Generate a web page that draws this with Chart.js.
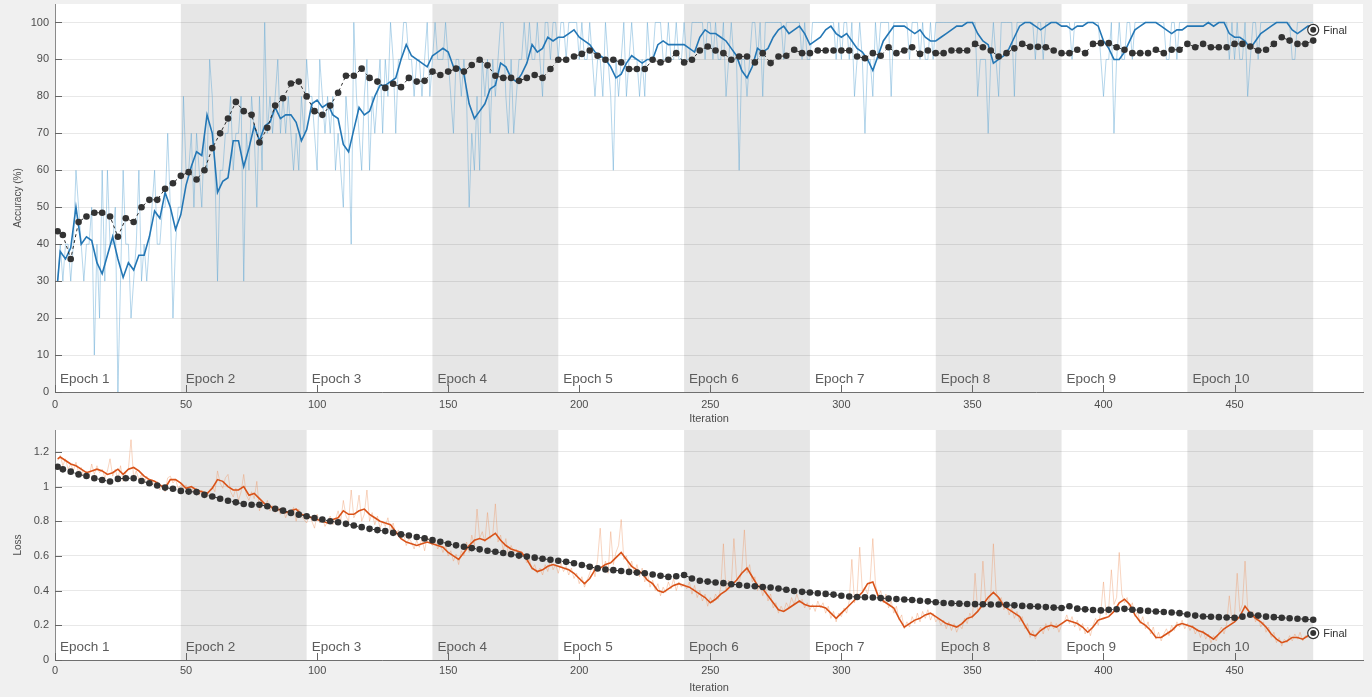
<!DOCTYPE html>
<html>
<head>
<meta charset="utf-8">
<script src="https://cdn.jsdelivr.net/npm/chart.js@4.4.1/dist/chart.umd.min.js"></script>
<style>
  html, body { margin: 0; padding: 0; background: #f0f0f0; }
  #wrap { position: relative; width: 1372px; height: 697px; overflow: hidden; }
  canvas { position: absolute; left: 0; }
  #accChart { top: 0; }
  #lossChart { top: 426px; }
</style>
</head>
<body>
<div id="wrap">
  <canvas id="accChart" width="1372" height="426"></canvas>
  <canvas id="lossChart" width="1372" height="271"></canvas>
</div>
<script>
// epochs: 48 iterations each, 480 in total
const epochLabels = ['Epoch 1', 'Epoch 2', 'Epoch 3', 'Epoch 4', 'Epoch 5', 'Epoch 6', 'Epoch 7', 'Epoch 8', 'Epoch 9', 'Epoch 10'];
const epochStarts = [0, 48, 96, 144, 192, 240, 288, 336, 384, 432, 480];
const iterTicks = [0, 50, 100, 150, 200, 250, 300, 350, 400, 450];
const accTicks = [0, 10, 20, 30, 40, 50, 60, 70, 80, 90, 100];
const lossTicks = [0, 0.2, 0.4, 0.6, 0.8, 1, 1.2];

// training accuracy per iteration (1..480)
const accRaw = [
  30,40,30,40,40,30,40,60,50,40,30,40,40,50,10,40,20,60,30,60,40,40,50,0,
  30,60,40,40,20,30,40,60,30,40,30,40,50,60,40,40,50,50,70,50,20,40,50,50,
  80,60,60,70,50,70,60,50,70,60,90,80,60,30,60,60,70,70,80,60,70,70,80,30,
  70,60,80,70,50,80,60,100,70,80,70,80,90,70,80,70,80,70,60,70,60,80,70,90,
  80,80,70,60,90,80,70,80,70,80,60,70,60,50,80,70,40,100,80,70,60,80,90,60,
  80,70,80,90,70,90,80,100,90,70,90,90,100,100,90,90,80,90,90,80,90,100,80,90,
  100,90,90,90,100,90,80,70,90,90,80,90,80,50,70,60,80,60,90,80,90,70,90,80,
  90,100,100,80,70,90,70,80,90,90,100,90,100,90,90,100,90,80,100,100,90,100,100,90,
  100,100,90,100,100,100,100,90,100,90,90,100,90,80,90,90,80,100,90,80,60,90,80,90,
  100,80,90,100,90,90,80,90,80,100,90,90,100,100,100,90,90,100,90,90,100,90,90,100,
  90,90,100,100,100,100,100,90,100,100,90,100,90,90,100,80,90,100,90,90,60,90,90,80,
  90,100,100,90,100,80,100,100,100,100,100,100,100,90,100,100,100,100,100,100,90,100,90,90,
  100,100,100,100,100,100,100,100,100,90,100,90,100,100,90,100,80,90,100,90,70,90,90,80,
  100,90,100,100,100,100,80,100,100,100,100,100,100,90,100,100,100,90,100,90,90,100,90,100,
  100,100,100,100,100,100,100,100,100,100,100,100,100,100,100,80,90,90,90,70,90,100,90,80,
  100,100,100,100,100,80,100,100,100,100,100,100,100,90,100,100,90,100,100,100,100,100,100,100,
  100,100,100,90,100,100,100,100,100,100,100,100,100,100,90,80,90,90,100,70,90,100,90,90,
  100,100,90,100,100,100,100,100,100,100,100,100,100,100,100,90,90,100,100,90,100,100,100,100,
  100,100,100,100,100,100,100,100,100,100,100,100,100,100,100,90,100,90,100,90,90,100,80,90,
  100,100,90,100,100,100,100,100,100,100,100,100,100,100,100,90,90,100,100,100,100,100,100,100
];
// smoothed training accuracy, every 2nd iteration (0..480)
const accSmooth = [
  30,38,36,39,50,40,42,41,35,32,37,42,36,31,35,33,37,37,42,49,47,54,50,44,
  48,56,61,65,64,75,70,54,57,58,68,68,61,66,72,68,72,73,77,74,75,75,73,68,
  71,78,79,77,78,75,74,67,65,71,77,75,76,80,83,83,84,85,90,94,91,90,89,88,
  91,92,93,92,88,88,86,78,74,76,78,82,83,89,88,85,84,86,89,94,92,93,96,95,
  96,96,97,98,96,95,94,92,91,90,88,85,86,89,91,90,89,90,90,94,95,94,94,94,
  94,93,92,96,98,97,97,96,95,93,91,87,85,88,93,92,93,96,98,99,97,98,99,97,
  94,95,96,98,99,97,96,97,95,93,92,90,87,91,95,97,99,99,99,98,97,98,96,95,
  95,96,97,98,99,99,100,100,97,95,94,89,90,91,93,96,99,100,100,99,98,99,100,100,
  99,99,98,99,99,100,100,99,95,93,90,90,92,95,98,99,100,100,100,99,98,97,98,98,
  99,99,99,99,100,99,100,100,97,96,96,95,93,95,97,98,99,100,100,100,98,97,98,99,
  99
];
// validation accuracy at iteration 1, then every 3rd iteration
const accVal = [
  43.5,42.5,36,46,47.5,48.5,48.5,47.5,42,47,46,50,52,52,55,56.5,58.5,
  59.5,57.5,60,66,70,74,78.5,76,75,67.5,71.5,77.5,79.5,83.5,84,80,
  76,75,77.5,81,85.6,85.6,87.5,85,84,82.3,83.4,82.5,85,84,84.2,86.7,
  85.8,86.7,87.5,86.7,88.5,89.9,88.4,85.6,85,85,84.2,85,85.8,85,87.4,89.9,
  89.9,90.8,91.5,92.4,91,89.9,89.9,89.2,87.4,87.4,87.4,89.9,89.2,89.9,91.7,89.2,
  89.9,92.4,93.5,92.4,91.7,89.9,90.8,90.8,89.2,91.7,89,90.8,91,92.6,91.7,91.7,
  92.4,92.4,92.4,92.4,92.4,90.8,90.3,91.7,91,93.3,91.7,92.4,93.3,91.5,92.4,91.7,
  91.7,92.4,92.4,92.4,94.2,93.3,92.4,90.8,91.7,93,94.2,93.4,93.4,93.3,92.4,91.7,
  91.7,92.6,91.7,94.2,94.4,94.4,93.3,92.6,91.7,91.7,91.7,92.6,91.7,92.6,92.6,94.2,
  93.3,94.2,93.3,93.3,93.3,94.2,94.2,93.5,92.4,92.6,94.2,96,95.1,94.2,94.2,95.1
];
const finalAcc = 98;

// training loss per iteration (1..480)
const lossRaw = [
  1.15,1.18,1.12,1.16,1.10,1.13,1.09,1.14,1.08,1.11,1.06,1.09,1.05,1.13,1.07,1.12,1.08,1.10,1.05,1.09,1.16,1.06,1.10,1.04,
  1.12,1.03,1.08,1.10,1.27,1.05,1.09,1.04,1.07,1.02,1.06,1.01,1.04,1.00,1.03,0.98,1.01,0.97,1.05,1.06,1.02,1.04,0.99,1.01,
  0.99,1.01,0.97,1.00,0.96,0.99,0.95,0.98,0.96,0.94,0.98,1.00,0.97,1.09,1.02,0.99,1.05,1.07,0.97,0.94,0.99,0.92,0.97,1.07,
  0.95,0.92,0.97,0.93,1.03,0.86,0.91,0.88,0.92,0.86,0.89,0.85,0.88,0.84,0.87,0.82,0.86,0.84,0.88,0.80,0.87,0.83,0.81,0.79,
  0.83,0.80,0.76,0.84,0.79,0.82,0.77,0.80,0.83,0.78,0.81,0.86,0.80,0.92,0.83,0.80,0.98,0.82,0.85,0.95,0.80,0.84,0.98,0.80,
  0.85,0.78,0.83,0.76,0.80,0.77,0.82,0.74,0.79,0.72,0.75,0.70,0.73,0.66,0.70,0.68,0.64,0.69,0.65,0.70,0.63,0.71,0.68,0.66,
  0.69,0.64,0.67,0.62,0.66,0.60,0.63,0.57,0.61,0.55,0.63,0.60,0.68,0.62,0.72,0.66,0.87,0.70,0.74,0.68,0.85,0.70,0.72,0.90,
  0.68,0.72,0.63,0.70,0.60,0.66,0.62,0.64,0.58,0.62,0.60,0.56,0.58,0.52,0.55,0.50,0.53,0.49,0.55,0.51,0.58,0.52,0.55,0.50,
  0.56,0.51,0.54,0.49,0.53,0.47,0.50,0.44,0.48,0.42,0.46,0.50,0.55,0.48,0.58,0.76,0.52,0.57,0.50,0.74,0.55,0.62,0.66,0.81,
  0.58,0.60,0.52,0.57,0.50,0.55,0.48,0.53,0.45,0.50,0.42,0.46,0.40,0.44,0.37,0.42,0.39,0.45,0.41,0.47,0.40,0.45,0.42,0.44,
  0.41,0.45,0.38,0.43,0.36,0.40,0.34,0.38,0.31,0.36,0.33,0.38,0.35,0.42,0.67,0.40,0.46,0.43,0.70,0.48,0.44,0.52,0.75,0.50,
  0.55,0.45,0.48,0.40,0.44,0.37,0.42,0.34,0.38,0.30,0.33,0.27,0.31,0.28,0.33,0.30,0.36,0.32,0.38,0.33,0.35,0.30,0.33,0.29,
  0.32,0.28,0.34,0.30,0.33,0.27,0.31,0.24,0.28,0.22,0.27,0.25,0.30,0.27,0.34,0.58,0.33,0.38,0.65,0.40,0.42,0.38,0.46,0.70,
  0.44,0.36,0.40,0.33,0.38,0.30,0.34,0.27,0.31,0.23,0.26,0.18,0.22,0.19,0.25,0.21,0.27,0.22,0.28,0.24,0.29,0.23,0.27,0.22,
  0.24,0.20,0.23,0.18,0.22,0.17,0.21,0.16,0.20,0.18,0.24,0.21,0.27,0.24,0.50,0.28,0.31,0.57,0.35,0.33,0.38,0.67,0.40,0.34,
  0.36,0.29,0.32,0.26,0.30,0.24,0.28,0.22,0.25,0.18,0.21,0.13,0.17,0.12,0.16,0.19,0.15,0.21,0.17,0.22,0.18,0.21,0.16,0.20,
  0.22,0.26,0.21,0.25,0.19,0.23,0.17,0.21,0.15,0.19,0.14,0.20,0.24,0.20,0.28,0.45,0.26,0.30,0.52,0.32,0.36,0.62,0.38,0.33,
  0.36,0.29,0.33,0.25,0.28,0.21,0.25,0.18,0.22,0.15,0.19,0.12,0.16,0.11,0.15,0.18,0.14,0.20,0.17,0.22,0.19,0.23,0.18,0.21,
  0.17,0.20,0.15,0.18,0.13,0.17,0.12,0.15,0.10,0.14,0.11,0.16,0.19,0.15,0.21,0.37,0.22,0.26,0.50,0.28,0.32,0.57,0.30,0.25,
  0.28,0.22,0.25,0.19,0.22,0.16,0.19,0.13,0.16,0.10,0.13,0.08,0.12,0.10,0.14,0.11,0.15,0.12,0.16,0.11,0.14,0.13,0.18,0.15
];
// smoothed training loss, every 2nd iteration (0..480)
const lossSmooth = [
  1.16,1.17,1.15,1.13,1.12,1.10,1.08,1.09,1.10,1.09,1.07,1.08,1.10,1.07,1.10,1.11,1.09,1.06,1.04,1.03,1.01,0.99,1.04,1.04,
  1.02,0.99,1.00,0.98,0.97,0.96,0.99,1.04,1.03,1.00,0.98,0.98,1.00,0.95,0.96,0.93,0.90,0.89,0.86,0.87,0.85,0.86,0.87,0.84,
  0.83,0.82,0.81,0.80,0.79,0.81,0.82,0.86,0.84,0.84,0.86,0.87,0.84,0.82,0.80,0.79,0.78,0.74,0.70,0.68,0.67,0.66,0.67,0.68,
  0.67,0.66,0.65,0.62,0.60,0.58,0.62,0.66,0.69,0.70,0.69,0.71,0.73,0.69,0.66,0.64,0.63,0.62,0.58,0.53,0.51,0.52,0.54,0.55,
  0.54,0.53,0.52,0.50,0.47,0.44,0.47,0.52,0.53,0.55,0.56,0.59,0.62,0.58,0.54,0.52,0.50,0.46,0.44,0.40,0.39,0.41,0.43,0.44,
  0.43,0.42,0.40,0.38,0.36,0.33,0.35,0.38,0.40,0.43,0.46,0.50,0.53,0.48,0.43,0.41,0.37,0.33,0.29,0.28,0.30,0.32,0.34,0.32,
  0.31,0.31,0.31,0.30,0.27,0.24,0.27,0.30,0.33,0.36,0.39,0.44,0.45,0.37,0.34,0.32,0.30,0.24,0.19,0.21,0.23,0.24,0.26,0.27,
  0.25,0.23,0.21,0.20,0.19,0.21,0.24,0.25,0.28,0.32,0.36,0.39,0.36,0.31,0.29,0.27,0.25,0.20,0.15,0.14,0.17,0.19,0.20,0.19,
  0.21,0.23,0.22,0.21,0.19,0.16,0.19,0.23,0.24,0.25,0.28,0.33,0.35,0.32,0.26,0.22,0.20,0.17,0.13,0.13,0.15,0.17,0.20,0.21,
  0.20,0.19,0.17,0.16,0.14,0.12,0.15,0.18,0.20,0.22,0.25,0.31,0.27,0.24,0.22,0.19,0.15,0.12,0.10,0.11,0.13,0.13,0.12,0.14,
  0.155
];
// validation loss at iteration 1, then every 3rd iteration
const lossVal = [
  1.114,1.099,1.086,1.070,1.061,1.048,1.038,1.029,1.044,1.048,1.048,1.032,1.019,1.006,0.994,0.987,0.975,
  0.971,0.968,0.952,0.943,0.930,0.918,0.909,0.899,0.895,0.895,0.886,0.872,0.861,0.848,0.838,0.829,
  0.819,0.810,0.800,0.794,0.785,0.775,0.766,0.756,0.749,0.743,0.733,0.724,0.718,0.709,0.701,0.691,
  0.682,0.670,0.661,0.653,0.645,0.638,0.630,0.624,0.617,0.610,0.602,0.596,0.590,0.584,0.578,0.572,
  0.566,0.558,0.548,0.538,0.528,0.522,0.518,0.513,0.508,0.504,0.500,0.493,0.486,0.479,0.483,0.490,
  0.470,0.457,0.452,0.447,0.443,0.437,0.432,0.428,0.425,0.421,0.418,0.412,0.405,0.398,0.393,0.389,
  0.385,0.381,0.377,0.370,0.366,0.363,0.362,0.360,0.357,0.354,0.352,0.349,0.346,0.342,0.338,0.333,
  0.329,0.327,0.325,0.323,0.322,0.321,0.320,0.320,0.318,0.315,0.312,0.310,0.308,0.305,0.302,0.300,
  0.310,0.296,0.292,0.288,0.286,0.289,0.293,0.295,0.290,0.286,0.283,0.280,0.277,0.274,0.270,0.262,
  0.256,0.251,0.249,0.247,0.245,0.244,0.250,0.261,0.256,0.250,0.247,0.244,0.241,0.238,0.235,0.232
];
const finalLoss = 0.155;

const FONT = "'Liberation Sans', Arial, sans-serif";
Chart.defaults.font.family = FONT;
Chart.defaults.color = '#4d4d4d';

const rawX = i => i + 1;
const smoothX = i => Math.max(1, 2 * i);
const valX = i => (i === 0 ? 1 : 3 * i);
const toPoints = (vals, xAt) => vals.map((v, i) => ({ x: xAt(i), y: v }));

// white plot box, grey bands on even epochs, inward ticks, epoch names, "Final" marker
const trainingDecor = {
  id: 'trainingDecor',
  beforeDraw(chart) {
    const { ctx, chartArea: a, scales: { x } } = chart;
    ctx.save();
    ctx.fillStyle = '#ffffff';
    ctx.fillRect(a.left, a.top, a.right - a.left, a.bottom - a.top);
    ctx.fillStyle = '#e6e6e6';
    for (let e = 1; e < epochLabels.length; e += 2) {
      const x0 = x.getPixelForValue(epochStarts[e]);
      const x1 = x.getPixelForValue(epochStarts[e + 1]);
      ctx.fillRect(x0, a.top, x1 - x0, a.bottom - a.top);
    }
    ctx.restore();
  },
  afterDatasetsDraw(chart, args, opts) {
    const { ctx, chartArea: a, scales: { x, y } } = chart;
    ctx.save();
    ctx.strokeStyle = '#666666';
    ctx.lineWidth = 1;
    ctx.beginPath();
    x.ticks.forEach(t => {
      const px = Math.round(x.getPixelForValue(t.value)) + 0.5;
      ctx.moveTo(px, a.bottom);
      ctx.lineTo(px, a.bottom - 7);
    });
    y.ticks.forEach(t => {
      const py = Math.round(y.getPixelForValue(t.value)) + 0.5;
      ctx.moveTo(a.left, py);
      ctx.lineTo(a.left + 7, py);
    });
    ctx.stroke();

    ctx.fillStyle = '#5c5c5c';
    ctx.font = '13.5px ' + FONT;
    ctx.textAlign = 'left';
    ctx.textBaseline = 'alphabetic';
    epochLabels.forEach((lab, i) => {
      ctx.fillText(lab, x.getPixelForValue(epochStarts[i]) + 5, a.bottom - 9);
    });

    const fx = x.getPixelForValue(epochStarts[epochStarts.length - 1]);
    const fy = y.getPixelForValue(opts.finalY);
    ctx.beginPath();
    ctx.arc(fx, fy, 5.5, 0, Math.PI * 2);
    ctx.fillStyle = '#ffffff';
    ctx.fill();
    ctx.strokeStyle = '#333333';
    ctx.lineWidth = 1.2;
    ctx.stroke();
    ctx.beginPath();
    ctx.arc(fx, fy, 3, 0, Math.PI * 2);
    ctx.fillStyle = '#333333';
    ctx.fill();
    ctx.font = '11px ' + FONT;
    ctx.textBaseline = 'middle';
    ctx.fillText('Final', fx + 10, fy + 1);
    ctx.restore();
  }
};

function makeChart(id, cfg) {
  return new Chart(document.getElementById(id), {
    type: 'line',
    data: {
      datasets: [
        {
          label: 'Validation',
          data: toPoints(cfg.val, valX),
          borderColor: '#2a2a2a',
          borderWidth: 1,
          borderDash: [3, 3],
          pointRadius: 3.3,
          pointBorderWidth: 0,
          pointBackgroundColor: '#333333'
        },
        {
          label: 'Training (smoothed)',
          data: toPoints(cfg.smooth, smoothX),
          borderColor: cfg.color,
          borderWidth: 1.6,
          pointRadius: 0
        },
        {
          label: 'Training',
          data: toPoints(cfg.raw, rawX),
          borderColor: cfg.light,
          borderWidth: 1,
          pointRadius: 0
        }
      ]
    },
    options: {
      responsive: false,
      animation: false,
      devicePixelRatio: 1,
      layout: { padding: { top: cfg.padTop, right: 9, left: 0, bottom: 0 } },
      plugins: {
        legend: { display: false },
        tooltip: { enabled: false },
        trainingDecor: { finalY: cfg.finalY }
      },
      scales: {
        x: {
          type: 'linear',
          min: 0,
          max: 499,
          afterBuildTicks: s => { s.ticks = iterTicks.map(v => ({ value: v })); },
          afterFit: s => { s.height = cfg.xHeight; s.paddingLeft = 0; s.paddingRight = 0; },
          grid: { display: false, drawTicks: false },
          border: { display: true, color: '#6f6f6f' },
          ticks: { padding: cfg.xPad, maxRotation: 0, autoSkip: false, font: { size: 11 } },
          title: { display: true, text: 'Iteration', font: { size: 11 }, padding: { top: 0, bottom: cfg.titlePad } }
        },
        y: {
          min: 0,
          max: cfg.yMax,
          afterBuildTicks: s => { s.ticks = cfg.yTicks.map(v => ({ value: v })); },
          afterFit: s => { s.width = 55; s.paddingTop = 0; s.paddingBottom = 0; },
          grid: { color: 'rgba(0,0,0,0.09)', drawTicks: false },
          border: { display: true, color: '#8a8a8a' },
          ticks: { padding: 6, autoSkip: false, font: { size: 11 }, callback: v => String(+v.toFixed(2)) },
          title: { display: true, text: cfg.yTitle, font: { size: 10 }, padding: { top: 12, bottom: 0 } }
        }
      }
    },
    plugins: [trainingDecor]
  });
}

makeChart('accChart', {
  raw: accRaw, smooth: accSmooth, val: accVal,
  color: '#2477b5', light: 'rgba(90,165,210,0.45)',
  yMax: 105, yTicks: accTicks, yTitle: 'Accuracy (%)', finalY: finalAcc,
  padTop: 4, xHeight: 34, xPad: 6, titlePad: 0
});

makeChart('lossChart', {
  raw: lossRaw, smooth: lossSmooth, val: lossVal,
  color: '#d95319', light: 'rgba(238,150,100,0.4)',
  yMax: 1.326, yTicks: lossTicks, yTitle: 'Loss', finalY: finalLoss,
  padTop: 2, xHeight: 37, xPad: 4, titlePad: 2
});
</script>
</body>
</html>
